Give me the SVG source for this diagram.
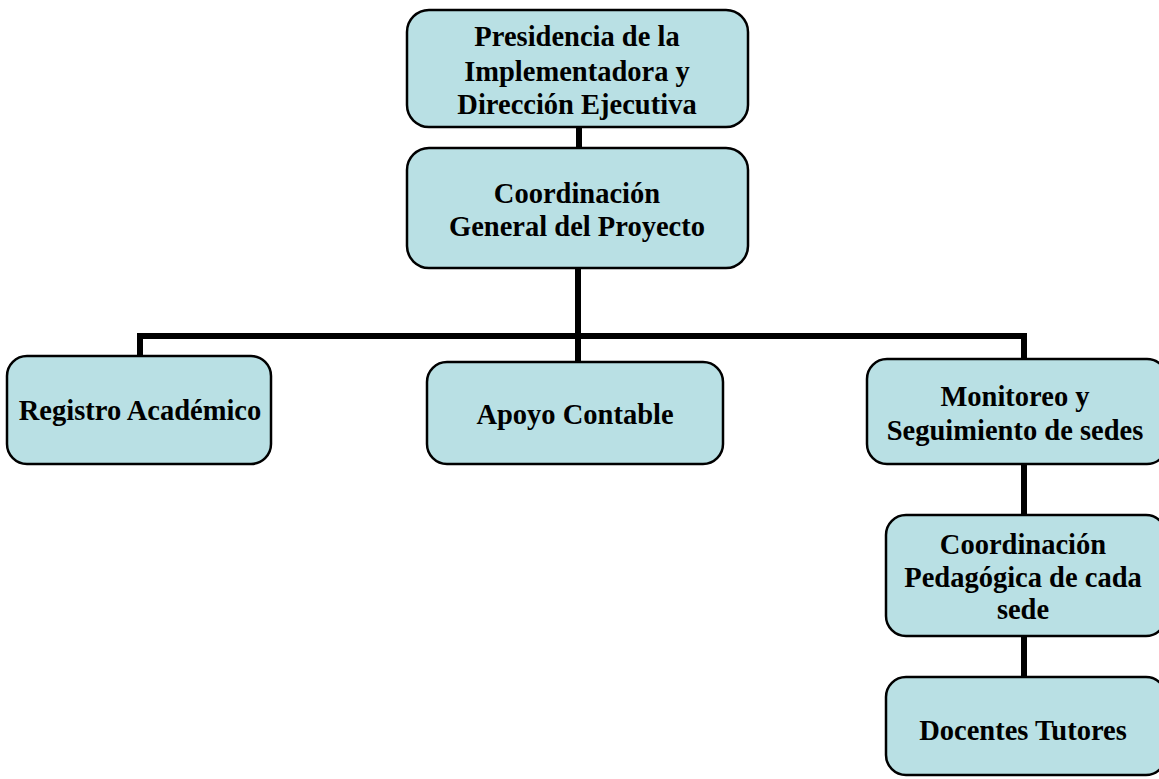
<svg xmlns="http://www.w3.org/2000/svg" width="1159" height="779" viewBox="0 0 1159 779">
<style>
.box{fill:#b9e0e4;stroke:#000;stroke-width:2.5}
.t{font-family:"Liberation Serif",serif;font-weight:bold;font-size:28.5px;fill:#000;text-anchor:middle}
.c{stroke:#000;stroke-width:6;fill:none}
</style>
<rect width="1159" height="779" fill="#fff"/>
<g id="connectors">
<line class="c" x1="579" y1="127" x2="579" y2="148"/>
<line class="c" x1="578" y1="268" x2="578" y2="362"/>
<polyline class="c" points="140,357 140,336 1024,336 1024,359"/>
<line class="c" x1="1024" y1="464" x2="1024" y2="515"/>
<line class="c" x1="1024" y1="636" x2="1024" y2="677"/>
</g>
<g id="presidencia">
<rect class="box" x="407" y="10" width="341" height="117" rx="22"/>
<text class="t" x="577" y="46">Presidencia de la</text>
<text class="t" x="577" y="81">Implementadora y</text>
<text class="t" x="577" y="114">Dirección Ejecutiva</text>
</g>
<g id="coordinacion-general">
<rect class="box" x="407" y="148" width="341" height="120" rx="22"/>
<text class="t" x="577" y="203">Coordinación</text>
<text class="t" x="577" y="236">General del Proyecto</text>
</g>
<g id="registro">
<rect class="box" x="7" y="356" width="264" height="108" rx="20"/>
<text class="t" x="140" y="420">Registro Académico</text>
</g>
<g id="apoyo">
<rect class="box" x="427" y="362" width="296" height="102" rx="20"/>
<text class="t" x="575" y="424">Apoyo Contable</text>
</g>
<g id="monitoreo">
<rect class="box" x="867" y="359" width="300" height="105" rx="20"/>
<text class="t" x="1015" y="406">Monitoreo y</text>
<text class="t" x="1015" y="440">Seguimiento de sedes</text>
</g>
<g id="coordinacion-pedagogica">
<rect class="box" x="886" y="515" width="280" height="121" rx="20"/>
<text class="t" x="1023" y="554">Coordinación</text>
<text class="t" x="1023" y="587">Pedagógica de cada</text>
<text class="t" x="1023" y="619">sede</text>
</g>
<g id="docentes">
<rect class="box" x="886" y="677" width="280" height="98" rx="20"/>
<text class="t" x="1023" y="740">Docentes Tutores</text>
</g>
</svg>
